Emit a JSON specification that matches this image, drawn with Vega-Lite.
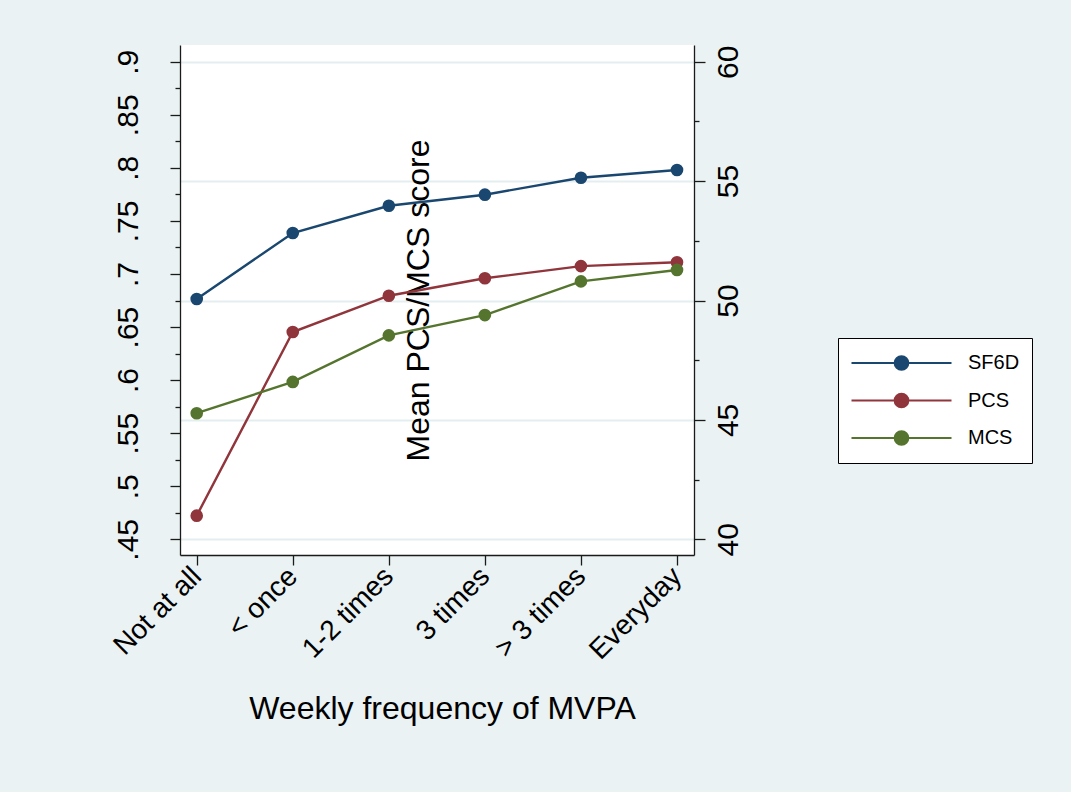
{
  "$schema": "https://vega.github.io/schema/vega-lite/v6.json",
  "width": 514,
  "height": 510,
  "autosize": {"type": "none"},
  "padding": {"left": 180, "top": 45, "right": 377, "bottom": 237},
  "background": "#EAF2F3",
  "config": {
    "view": {"fill": "white", "stroke": null},
    "font": "Liberation Sans",
    "axis": {
      "domainColor": "#1a1a1a",
      "tickColor": "#1a1a1a",
      "domainWidth": 1.3,
      "tickWidth": 1.3,
      "labelColor": "black",
      "titleColor": "black",
      "labelFont": "Liberation Sans",
      "titleFont": "Liberation Sans",
      "labelFontSize": 30,
      "titleFontSize": 32,
      "titleFontWeight": "normal",
      "labelOverlap": false,
      "labelFlush": false,
      "grid": false
    }
  },
  "data": {
    "values": [
      {"x": 1, "freq": "Not at all", "measure": "SF6D", "value": 0.6764},
      {"x": 2, "freq": "< once", "measure": "SF6D", "value": 0.7386},
      {"x": 3, "freq": "1-2 times", "measure": "SF6D", "value": 0.7643},
      {"x": 4, "freq": "3 times", "measure": "SF6D", "value": 0.7747},
      {"x": 5, "freq": "> 3 times", "measure": "SF6D", "value": 0.7907},
      {"x": 6, "freq": "Everyday", "measure": "SF6D", "value": 0.798},
      {"x": 1, "freq": "Not at all", "measure": "PCS", "value": 40.99},
      {"x": 2, "freq": "< once", "measure": "PCS", "value": 48.68},
      {"x": 3, "freq": "1-2 times", "measure": "PCS", "value": 50.2},
      {"x": 4, "freq": "3 times", "measure": "PCS", "value": 50.93},
      {"x": 5, "freq": "> 3 times", "measure": "PCS", "value": 51.44},
      {"x": 6, "freq": "Everyday", "measure": "PCS", "value": 51.6},
      {"x": 1, "freq": "Not at all", "measure": "MCS", "value": 45.28},
      {"x": 2, "freq": "< once", "measure": "MCS", "value": 46.59},
      {"x": 3, "freq": "1-2 times", "measure": "MCS", "value": 48.54},
      {"x": 4, "freq": "3 times", "measure": "MCS", "value": 49.39},
      {"x": 5, "freq": "> 3 times", "measure": "MCS", "value": 50.8},
      {"x": 6, "freq": "Everyday", "measure": "MCS", "value": 51.28}
    ]
  },
  "encoding": {
    "x": {
      "field": "x",
      "type": "quantitative",
      "scale": {"domain": [0.826, 6.177], "nice": false, "zero": false},
      "axis": {
        "title": "Weekly frequency of MVPA",
        "values": [1, 2, 3, 4, 5, 6],
        "labelExpr": "['Not at all','< once','1-2 times','3 times','> 3 times','Everyday'][datum.value - 1]",
        "labelAngle": -45,
        "labelAlign": "right",
        "labelBaseline": "middle",
        "labelPadding": 7,
        "labelFontSize": 28,
        "tickSize": 10,
        "titleX": 262,
        "titleY": 163,
        "titleAlign": "center",
        "titleBaseline": "alphabetic"
      }
    }
  },
  "layer": [
    {
      "data": {"values": [{}]},
      "mark": {"type": "rule", "color": "#C8102E", "strokeWidth": 2},
      "encoding": {"x": {"datum": 4.5, "type": "quantitative"}}
    },
    {
      "transform": [{"filter": "datum.measure === 'SF6D'"}],
      "encoding": {
        "y": {
          "field": "value",
          "type": "quantitative",
          "scale": {"domain": [0.43521, 0.91574], "nice": false, "zero": false},
          "axis": {
            "orient": "left",
            "title": null,
            "values": [0.45, 0.475, 0.5, 0.525, 0.55, 0.575, 0.6, 0.625, 0.65, 0.675, 0.7, 0.725, 0.75, 0.775, 0.8, 0.825, 0.85, 0.875, 0.9],
            "labelExpr": "abs(datum.value*20 - round(datum.value*20)) < 0.001 ? substring(format(datum.value, '.2~f'), 1) : ''",
            "tickSize": {"condition": {"test": "abs(datum.value*20 - round(datum.value*20)) < 0.001", "value": 10}, "value": 5},
            "labelAngle": -90,
            "labelAlign": "center",
            "labelBaseline": "alphabetic",
            "labelPadding": 33,
            "grid": false
          }
        },
        "color": {
          "field": "measure",
          "type": "nominal",
          "scale": {"domain": ["SF6D", "PCS", "MCS"], "range": ["#1A476F", "#90353B", "#55752F"]},
          "legend": {
            "orient": "none",
            "legendX": 658,
            "legendY": 293,
            "title": null,
            "symbolType": "M-1,0L1,0M0.135,0A0.135,0.135,0,1,1,-0.135,0A0.135,0.135,0,1,1,0.135,0Z",
            "symbolSize": 10000,
            "symbolStrokeWidth": 2.2,
            "clipHeight": 26,
            "rowPadding": 11.5,
            "padding": 12,
            "symbolOffset": 0,
            "labelOffset": 15,
            "labelFontSize": 20,
            "labelFont": "Liberation Sans",
            "labelColor": "black",
            "fillColor": "white",
            "strokeColor": "black",
            "cornerRadius": 0
          }
        }
      },
      "layer": [
        {"mark": {"type": "line", "strokeWidth": 2.4}},
        {"mark": {"type": "point", "filled": true, "size": 160, "opacity": 1}}
      ]
    },
    {
      "transform": [{"filter": "datum.measure !== 'SF6D'"}],
      "encoding": {
        "y": {
          "field": "value",
          "type": "quantitative",
          "scale": {"domain": [39.343, 60.699], "nice": false, "zero": false},
          "axis": {
            "orient": "right",
            "title": "Mean PCS/MCS score",
            "titleAngle": 270,
            "titleX": -266,
            "titleY": 255,
            "titleAlign": "center",
            "titleBaseline": "alphabetic",
            "values": [40, 42.5, 45, 47.5, 50, 52.5, 55, 57.5, 60],
            "labelExpr": "datum.value % 5 == 0 ? format(datum.value, 'd') : ''",
            "tickSize": {"condition": {"test": "datum.value % 5 == 0", "value": 11}, "value": 5},
            "labelAngle": -90,
            "labelAlign": "center",
            "labelBaseline": "top",
            "labelPadding": 8,
            "grid": true,
            "gridColor": "#E4EDF0",
            "gridWidth": 2,
            "gridOpacity": {"condition": {"test": "datum.value % 5 == 0", "value": 1}, "value": 0}
          }
        },
        "color": {
          "field": "measure",
          "type": "nominal",
          "scale": {"domain": ["SF6D", "PCS", "MCS"], "range": ["#1A476F", "#90353B", "#55752F"]},
          "legend": {
            "orient": "none",
            "legendX": 658,
            "legendY": 293,
            "title": null,
            "symbolType": "M-1,0L1,0M0.135,0A0.135,0.135,0,1,1,-0.135,0A0.135,0.135,0,1,1,0.135,0Z",
            "symbolSize": 10000,
            "symbolStrokeWidth": 2.2,
            "clipHeight": 26,
            "rowPadding": 11.5,
            "padding": 12,
            "symbolOffset": 0,
            "labelOffset": 15,
            "labelFontSize": 20,
            "labelFont": "Liberation Sans",
            "labelColor": "black",
            "fillColor": "white",
            "strokeColor": "black",
            "cornerRadius": 0
          }
        }
      },
      "layer": [
        {"mark": {"type": "line", "strokeWidth": 2.4}},
        {"mark": {"type": "point", "filled": true, "size": 160, "opacity": 1}}
      ]
    }
  ],
  "resolve": {"scale": {"y": "independent"}}
}
